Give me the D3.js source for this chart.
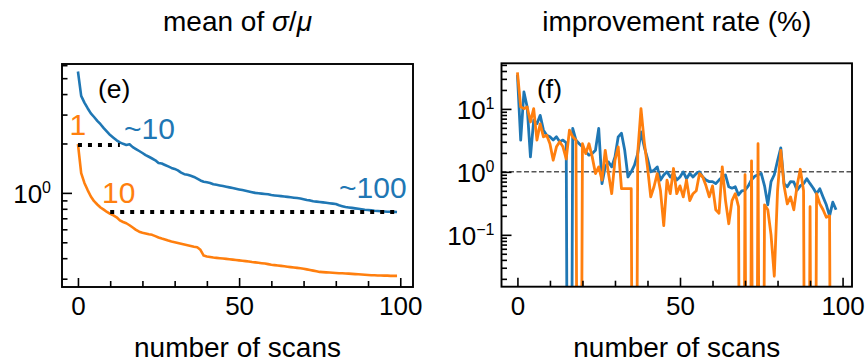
<!DOCTYPE html>
<html><head><meta charset="utf-8">
<script src="https://cdn.jsdelivr.net/npm/d3@7"></script>
<style>body{margin:0;background:#fff}svg{display:block}text{font-family:"Liberation Sans",Arial,Helvetica,sans-serif;fill:#000}</style>
</head><body><svg id="c" width="868" height="363"></svg>
<script>
// ---------- data ----------
const scansE = d3.range(0, 100);
const blueE = [5.49,3.9,3.55,3.28,3.05,2.9,2.75,2.62,2.48,2.36,2.25,2.17,2.09,2.03,1.99,1.96,1.98,1.9,1.85,1.8,
1.75,1.7,1.66,1.62,1.58,1.52,1.51,1.48,1.45,1.42,1.4,1.37,1.33,1.3,1.29,1.27,1.25,1.22,1.19,1.17,
1.16,1.15,1.13,1.12,1.11,1.1,1.09,1.08,1.07,1.06,1.05,1.04,1.03,1.02,1.01,1.0,0.995,0.99,0.985,0.98,
0.97,0.965,0.96,0.955,0.95,0.945,0.94,0.935,0.93,0.925,0.915,0.905,0.9,0.89,0.885,0.88,0.875,0.87,0.865,0.86,
0.855,0.84,0.83,0.82,0.815,0.81,0.805,0.8,0.795,0.79,0.786,0.782,0.778,0.775,0.772,0.77,0.768,0.767,0.766,0.765];
const orangeE = [1.98,1.32,1.15,1.04,0.95,0.89,0.85,0.815,0.79,0.765,0.745,0.73,0.71,0.68,0.665,0.653,0.635,0.615,0.595,0.58,
0.572,0.566,0.56,0.555,0.545,0.535,0.527,0.52,0.512,0.505,0.5,0.495,0.49,0.485,0.48,0.475,0.47,0.466,0.45,0.415,
0.41,0.407,0.404,0.402,0.4,0.398,0.396,0.394,0.392,0.39,0.388,0.386,0.384,0.382,0.379,0.377,0.375,0.373,0.371,0.368,
0.365,0.363,0.361,0.359,0.357,0.355,0.353,0.351,0.349,0.347,0.345,0.342,0.339,0.336,0.333,0.33,0.329,0.328,0.327,0.326,
0.325,0.324,0.324,0.323,0.322,0.321,0.32,0.319,0.318,0.317,0.316,0.315,0.315,0.314,0.314,0.313,0.313,0.312,0.312,0.312];
// dotted guide lines in (e): [x1, x2, y]
const guide1 = [0, 13, 1.96];
const guide2 = [10, 99, 0.765];

const scansF = d3.range(0, 99);
const blueF = [35,3.2,18.6,10.7,1.73,6.6,5.8,7.9,4.6,3.8,3.6,3.2,3.6,3.0,3.2,2.9,0,4.9,3.2,2.8,
2.5,2.1,1.84,1.95,2.2,4.9,0.65,1.2,1.44,1.2,1.73,3.6,4.1,2.2,0.83,1.0,1.28,1.95,4.3,2.5,
1.63,1.0,1.06,1.2,0.74,0.89,1.0,0.83,0.94,0.74,0.83,1.0,0.78,0.94,0.83,0.94,1.0,0.83,0.74,0.7,
0.7,0.65,0.74,0.83,0.89,0.58,0.55,0.58,0.43,0.5,0.51,0.6,0.75,0.85,0.9,0.94,0.6,0.3,0.7,0.9,
1.5,2.4,0.65,0.58,0.7,0.69,0.51,0.6,0.65,0.78,0.65,0.55,0.45,0.54,0.4,0.3,0.2,0.33,0.25];
const orangeF = [38,10.8,10.1,10.7,6.2,10.1,3.2,5.8,3.6,3.8,2.8,1.53,2.5,3.0,2.5,1.6,4.6,3.6,3.2,0,
2.8,1.95,2.8,1.73,0.94,1.2,0.74,2.2,0.94,0.45,1.53,2.5,0.54,0.54,0.54,0.54,0,2.0,10.1,3.0,
1.2,0.4,0.58,0.94,0.5,0.14,0.74,0.45,1.13,0.45,0.6,0.4,0.74,0.35,0.45,0.5,0.94,0.83,0.6,0.4,
0.6,0.25,0.22,1.2,0.35,0.15,0.35,0.45,0.28,0,0.9,0,1.5,0,2.8,0,0.3,0.25,0.1,0.022,
0.5,2.2,0.6,0.31,0.4,0.25,0.6,1.1,0.5,0,0.28,0,0.45,0.31,0.25,0.19,0.2,0,0];
const refLineF = 1;

const xTicks = [0, 50, 100];
const xMinor = [10,20,30,40,60,70,80,90];

const BLUE = "#1f77b4", ORANGE = "#ff7f0e";
const svg = d3.select("#c");

function superLabel(sel, exp){
  sel.text("10").append("tspan").attr("dy", -10).attr("font-size", 16).text(exp);
}

function drawPanel(opt){
  const g = svg.append("g");
  const x = d3.scaleLinear().domain(opt.xd).range([opt.x0, opt.x1]);
  const y = d3.scaleLog().domain(opt.yd).range([opt.y1, opt.y0]);
  const clipId = "clip" + opt.id;
  svg.append("clipPath").attr("id", clipId).append("rect")
    .attr("x", opt.x0).attr("y", opt.y0).attr("width", opt.x1 - opt.x0).attr("height", opt.y1 - opt.y0);
  const plot = g.append("g").attr("clip-path", `url(#${clipId})`);
  const floor = 1e-12;
  opt.draw(plot, x, y, floor);

  // x axis ticks (inward)
  const xa = d3.axisBottom(x).tickValues(xTicks).tickSize(-9).tickPadding(10).tickFormat(d3.format("d"));
  const xg = g.append("g").attr("transform", `translate(0,${opt.y1})`).call(xa);
  const xm = d3.axisBottom(x).tickValues(xMinor).tickSize(-6).tickFormat("");
  const xmg = g.append("g").attr("transform", `translate(0,${opt.y1})`).call(xm);
  [xg, xmg].forEach(s => { s.select(".domain").remove(); s.selectAll("line").attr("stroke", "#000").attr("stroke-width", 1.6); });
  xg.selectAll("text").attr("font-size", 26).attr("fill", "#000").attr("font-family", "Liberation Sans, Arial, sans-serif");

  // y axis ticks
  const ya = d3.axisLeft(y).tickValues(opt.yMajor).tickSize(-10).tickFormat("");
  const yg = g.append("g").attr("transform", `translate(${opt.x0},0)`).call(ya);
  const ym = d3.axisLeft(y).tickValues(opt.yMinor).tickSize(-5.5).tickFormat("");
  const ymg = g.append("g").attr("transform", `translate(${opt.x0},0)`).call(ym);
  [yg, ymg].forEach(s => { s.select(".domain").remove(); s.selectAll("line").attr("stroke", "#000").attr("stroke-width", 1.6); });
  yg.selectAll(".tick").each(function(d){
    const t = d3.select(this).append("text").attr("x", opt.yPad).attr("dy", "0.38em")
      .attr("text-anchor", "end").attr("font-size", 26);
    superLabel(t, opt.yExp(d));
  });

  // frame
  g.append("rect").attr("x", opt.x0).attr("y", opt.y0).attr("width", opt.x1 - opt.x0).attr("height", opt.y1 - opt.y0)
    .attr("fill", "none").attr("stroke", "#000").attr("stroke-width", 1.9);

  // labels
  const cx = (opt.x0 + opt.x1) / 2;
  g.append("text").attr("x", cx).attr("y", 357).attr("text-anchor", "middle").attr("font-size", 28).text("number of scans");
  const tt = g.append("text").attr("x", cx).attr("y", 31).attr("text-anchor", "middle").attr("font-size", 28);
  opt.title(tt);
  g.append("text").attr("x", opt.tagX).attr("y", opt.tagY).attr("font-size", 26.5).text(opt.tag);
  return {x, y, g};
}

function minorTicks(lo, hi){
  const out = [];
  for (let e = -3; e <= 2; e++) for (let m = 2; m <= 9; m++) { const v = m * Math.pow(10, e); if (v >= lo && v <= hi) out.push(v); }
  return out;
}

// ---------- panel (e) ----------
const E = drawPanel({
  id: "e", x0: 62, x1: 413, y0: 64, y1: 287, xd: [-4.95, 103.95], yd: [0.267, 6.1],
  yMajor: [1], yMinor: minorTicks(0.267, 6.1), yExp: d => "0", yPad: -11,
  tag: "(e)", tagX: 98, tagY: 98,
  title: t => { t.append("tspan").text("mean of "); t.append("tspan").attr("font-style", "italic").text("σ"); t.append("tspan").text("/"); t.append("tspan").attr("font-style", "italic").text("μ"); },
  draw: (p, x, y) => {
    const line = d3.line().x((d, i) => x(scansE[i])).y(d => y(d));
    p.append("path").datum(blueE).attr("d", line).attr("fill", "none").attr("stroke", BLUE).attr("stroke-width", 2.6).attr("stroke-linejoin", "round");
    p.append("path").datum(orangeE).attr("d", line).attr("fill", "none").attr("stroke", ORANGE).attr("stroke-width", 2.6).attr("stroke-linejoin", "round");
    [guide1, guide2].forEach(gd => {
      p.append("line").attr("x1", x(gd[0])).attr("x2", x(gd[1])).attr("y1", y(gd[2])).attr("y2", y(gd[2]))
        .attr("stroke", "#000").attr("stroke-width", 4).attr("stroke-dasharray", "4,6");
    });
  }
});
// annotations in (e)
const ann = E.g.append("g").attr("font-size", 30);
ann.append("text").attr("x", E.x(0)).attr("y", 135).attr("text-anchor", "middle").style("fill", ORANGE).text("1");
ann.append("text").attr("x", 124).attr("y", 139).style("fill", BLUE).text("~10");
ann.append("text").attr("x", 102).attr("y", 203).style("fill", ORANGE).text("10");
ann.append("text").attr("x", 339).attr("y", 198).style("fill", BLUE).text("~100");

// ---------- panel (f) ----------
drawPanel({
  id: "f", x0: 501.5, x1: 852, y0: 63.3, y1: 286.7, xd: [-4.9, 102.9], yd: [0.015, 53],
  yMajor: [0.1, 1, 10], yMinor: minorTicks(0.015, 53), yExp: d => d === 10 ? "1" : d === 1 ? "0" : "−1", yPad: -7,
  tag: "(f)", tagX: 537, tagY: 98,
  title: t => t.text("improvement rate (%)"),
  draw: (p, x, y, floor) => {
    p.append("line").attr("x1", x.range()[0]).attr("x2", x.range()[1]).attr("y1", y(refLineF)).attr("y2", y(refLineF))
      .attr("stroke", "#555").attr("stroke-width", 1.5).attr("stroke-dasharray", "5,2.5");
    const line = d3.line().x((d, i) => x(scansF[i])).y(d => y(d > 0 ? d : floor));
    p.append("path").datum(blueF).attr("d", line).attr("fill", "none").attr("stroke", BLUE).attr("stroke-width", 2.8).attr("stroke-linejoin", "round");
    p.append("path").datum(orangeF).attr("d", line).attr("fill", "none").attr("stroke", ORANGE).attr("stroke-width", 2.8).attr("stroke-linejoin", "round");
  }
});
</script></body></html>
